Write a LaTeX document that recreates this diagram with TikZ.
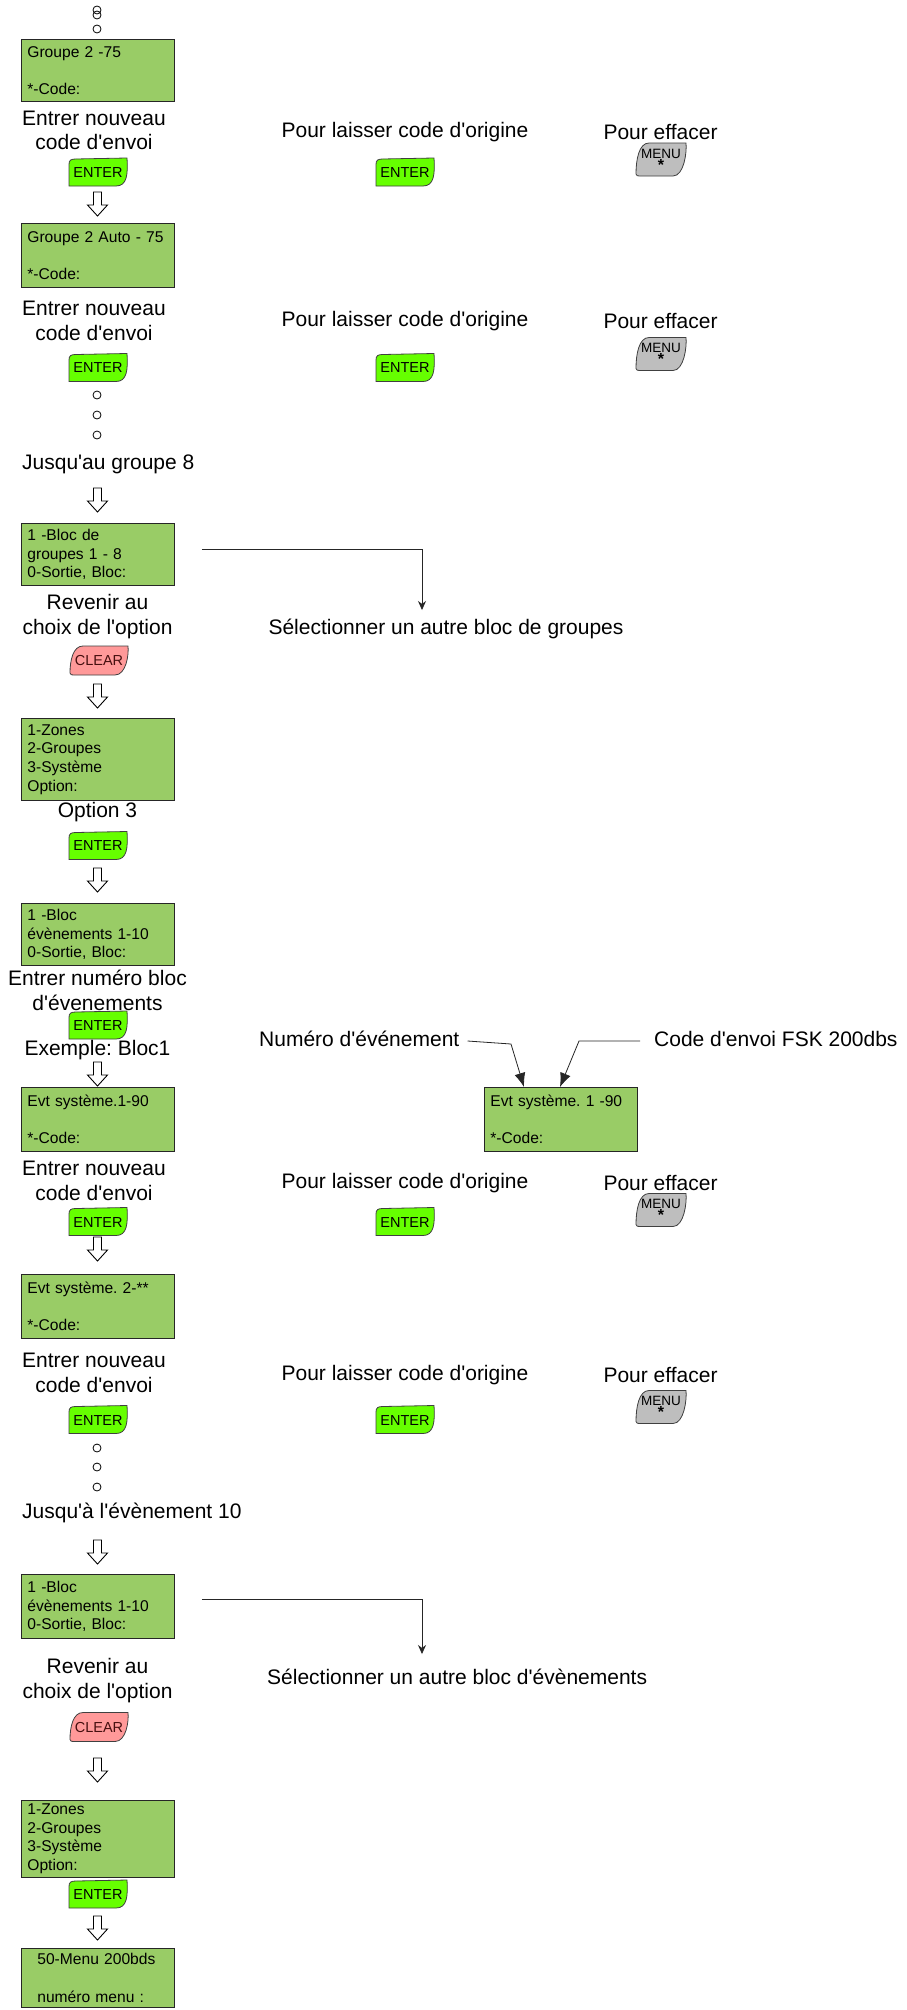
\documentclass[tikz,border=0pt]{standalone}
\usepackage{fontspec}
\setmainfont{Liberation Sans}
\usetikzlibrary{arrows.meta,calc}
\definecolor{boxgreen}{RGB}{153,204,102}
\definecolor{entergreen}{RGB}{102,255,0}
\definecolor{clearpink}{RGB}{255,153,153}
\definecolor{menugray}{RGB}{190,190,190}
\definecolor{cleartext}{RGB}{70,15,15}
\newcommand{\ap}{\textquotesingle}
\newcommand{\lblfont}{\fontsize{21}{24.5}\selectfont\frenchspacing}
\newcommand{\boxfont}{\fontsize{15.6}{18.6}\selectfont\frenchspacing}
\newcommand{\keyfont}{\fontsize{14.5}{15}\selectfont}
\newcommand{\menufont}{\fontsize{13.5}{11}\selectfont}
\tikzset{
  lcd/.style={draw=black!85, line width=0.8pt, fill=boxgreen, rectangle,
    minimum width=153pt, minimum height=62pt, text width=141pt,
    inner xsep=6pt, inner ysep=0pt, align=left, font=\boxfont, anchor=north west},
  lbl/.style={font=\lblfont, align=center, inner sep=0pt},
  keytxt/.style={font=\keyfont, inner sep=0pt, align=center},
  dotc/.style={circle, draw, line width=0.8pt, minimum size=8pt, inner sep=0pt},
  conn/.style={draw=black!85, line width=0.8pt},
  keyline/.style={draw=black!75, line width=0.8pt}
}
% ENTER key: name, cx, cy
\newcommand{\enterkey}[3]{%
  \path[keyline, fill=entergreen] ({#2-29},{#3+13.5}) -- ({#2-29},{#3-8})
    .. controls ({#2-29},{#3-12.5}) and ({#2-27},{#3-13.5}) .. ({#2-22},{#3-13.5})
    -- ({#2+29},{#3-14.5})
    .. controls ({#2+30},{#3+2}) and ({#2+29},{#3+13.5}) .. ({#2+18},{#3+13.5}) -- cycle;
  \node[keytxt] (#1) at (#2,#3) {ENTER};}
% slanted key: name, cx, cy, halfw, halfh, fill, text style, text
\newcommand{\slantkey}[8]{%
  \path[keyline, fill=#6] ({#2-#4},{#3+#5-2})
    .. controls ({#2-#4},{#3}) and ({#2-#4+3},{#3-#5}) .. ({#2-#4+13},{#3-#5})
    -- ({#2+#4},{#3-#5})
    .. controls ({#2+#4+1},{#3-#5+9}) and ({#2+#4-2},{#3+#5}) .. ({#2+#4-13},{#3+#5})
    -- ({#2-#4+4},{#3+#5}) .. controls ({#2-#4+1},{#3+#5}) .. cycle;
  \node[#7] (#1) at (#2,#3) {#8};}
\newcommand{\blockdown}[2]{%
  \draw[line width=0.9pt, fill=white] ({#1-4},#2) -- ({#1+4},#2) -- ({#1+4},{#2+13})
    -- ({#1+10},{#2+13}) -- (#1,{#2+24}) -- ({#1-10},{#2+13}) -- ({#1-4},{#2+13}) -- cycle;}
\newcommand{\menutext}{\menufont MENU\\[-3pt]{\fontsize{16}{11}\selectfont\textbf{*}}}
\begin{document}
\begin{tikzpicture}[x=1pt,y=-1pt]
\useasboundingbox[fill=white] (0,0) rectangle (906,2010);
% top dots
\node[dotc] (d0a) at (97,10) {};
\node[dotc] (d0b) at (97,15) {};
\node[dotc] (d0c) at (97,29) {};
% box 1
\node[lcd] (b1) at (21,39) {Groupe 2 -75\\\mbox{}\\{}*-Code:};
\node[lbl] (l1) at (94,130.5) {Entrer nouveau\\code d\ap envoi};
\enterkey{e1}{98}{172.5}
\node[lbl] (p1) at (405,132) {Pour laisser code d\ap origine};
\enterkey{e1r}{405}{172.5}
\node[lbl] (f1) at (660.5,132) {Pour effacer};
\slantkey{m1}{661}{159.5}{25}{16.5}{menugray}{keytxt}{\menutext}
\blockdown{97.5}{192}
% box 2
\node[lcd, minimum height=64pt] (b2) at (21,223) {Groupe 2 Auto - 75\\\mbox{}\\{}*-Code:};
\node[lbl] (l2) at (94,321) {Entrer nouveau\\code d\ap envoi};
\node[lbl] (p2) at (405,321) {Pour laisser code d\ap origine};
\node[lbl] (f2) at (660.5,321) {Pour effacer};
\enterkey{e2}{98}{368}
\enterkey{e2r}{405}{368}
\slantkey{m2}{661}{354}{25}{16.5}{menugray}{keytxt}{\menutext}
\node[dotc] (d1a) at (97,395) {};
\node[dotc] (d1b) at (97,415) {};
\node[dotc] (d1c) at (97,435) {};
\node[lbl, anchor=west] (j1) at (22,464) {Jusqu\ap au groupe 8};
\blockdown{97.5}{488}
% box 3
\node[lcd] (b3) at (21,523) {1 -Bloc de\\groupes 1 - 8\\0-Sortie, Bloc:};
\node[lbl] (s1) at (446,629) {Sélectionner un autre bloc de groupes};
\coordinate (s1in) at (422,610);
\draw[conn, -{Stealth[length=9pt,width=8pt]}] ($(b3.east)+(27,-5)$) -| (s1in);
\node[lbl] (r1) at (97.5,616.5) {Revenir au\\choix de l\ap option};
\slantkey{c1}{99}{660.5}{29}{14.5}{clearpink}{keytxt, text=cleartext}{CLEAR}
\blockdown{97.5}{684}
% box 4
\node[lcd, minimum height=82pt] (b4) at (21,718) {1-Zones\\2-Groupes\\3-Système\\Option:};
\node[lbl] (o3) at (97.5,812) {Option 3};
\enterkey{e3}{98}{846}
\blockdown{97.5}{868}
% box 5
\node[lcd] (b5) at (21,903) {1 -Bloc\\évènements 1-10\\0-Sortie, Bloc:};
\node[lbl] (l5) at (97.5,990.5) {Entrer numéro bloc\\d\ap évenements};
\enterkey{e5}{98}{1025.5}
\node[lbl] (ex) at (97.5,1050) {Exemple: Bloc1};
\blockdown{97.5}{1062}
% box 6
\node[lcd, minimum height=64pt] (b6) at (21,1087) {Evt système.1-90\\\mbox{}\\{}*-Code:};
\node[lcd, minimum height=64pt] (bx) at (484,1087) {Evt système. 1 -90\\\mbox{}\\{}*-Code:};
\node[lbl, anchor=west] (numl) at (259,1039) {Numéro d\ap événement};
\node[lbl, anchor=west] (codel) at (654,1039) {Code d\ap envoi FSK 200dbs};
\coordinate (tipa) at ($(bx.north west)+(40,0)$);
\coordinate (tipb) at ($(bx.north west)+(76,0)$);
\draw[conn, -{Latex[length=14pt,width=11pt]}] ($(numl.east)+(8,2)$) -- (511,1044) -- (tipa);
\draw[conn, -{Latex[length=14pt,width=11pt]}] ($(codel.west)+(-14,2)$) -- (579,1041) -- (tipb);
\node[lbl] (l6) at (94,1181) {Entrer nouveau\\code d\ap envoi};
\node[lbl] (p6) at (405,1183) {Pour laisser code d\ap origine};
\node[lbl] (f6) at (660.5,1183) {Pour effacer};
\enterkey{e6}{98}{1222}
\enterkey{e6r}{405}{1222}
\slantkey{m6}{661}{1210}{25}{16.5}{menugray}{keytxt}{\menutext}
\blockdown{97.5}{1237}
% box 7
\node[lcd, minimum height=64pt] (b7) at (21,1274) {Evt système. 2-**\\\mbox{}\\{}*-Code:};
\node[lbl] (l7) at (94,1373) {Entrer nouveau\\code d\ap envoi};
\node[lbl] (p7) at (405,1375) {Pour laisser code d\ap origine};
\node[lbl] (f7) at (660.5,1375) {Pour effacer};
\enterkey{e7}{98}{1420}
\enterkey{e7r}{405}{1420}
\slantkey{m7}{661}{1407}{25}{16.5}{menugray}{keytxt}{\menutext}
\node[dotc] (d2a) at (97,1448) {};
\node[dotc] (d2b) at (97,1467) {};
\node[dotc] (d2c) at (97,1487) {};
\node[lbl, anchor=west] (j2) at (22,1513) {Jusqu\ap à l\ap évènement 10};
\blockdown{97.5}{1540}
% box 8
\node[lcd, minimum height=64pt] (b8) at (21,1574) {1 -Bloc\\évènements 1-10\\0-Sortie, Bloc:};
\node[lbl, anchor=west] (s2) at (267,1677) {Sélectionner un autre bloc d\ap évènements};
\coordinate (s2in) at (422,1654);
\draw[conn, -{Stealth[length=9pt,width=8pt]}] ($(b8.east)+(27,-7)$) -| (s2in);
\node[lbl] (r2) at (97.5,1680.5) {Revenir au\\choix de l\ap option};
\slantkey{c2}{99}{1727}{29}{14.5}{clearpink}{keytxt, text=cleartext}{CLEAR}
\blockdown{97.5}{1758}
% box 9
\node[lcd, minimum height=77pt] (b9) at (21,1800) {1-Zones\\2-Groupes\\3-Système\\Option:};
\enterkey{e9}{98}{1894.5}
\blockdown{97.5}{1916}
% box 10
\node[lcd, minimum height=59pt] (b10) at (21,1948) {\hspace*{10pt}50-Menu 200bds\\\mbox{}\\\hspace*{10pt}numéro menu :};
\end{tikzpicture}
\end{document}
